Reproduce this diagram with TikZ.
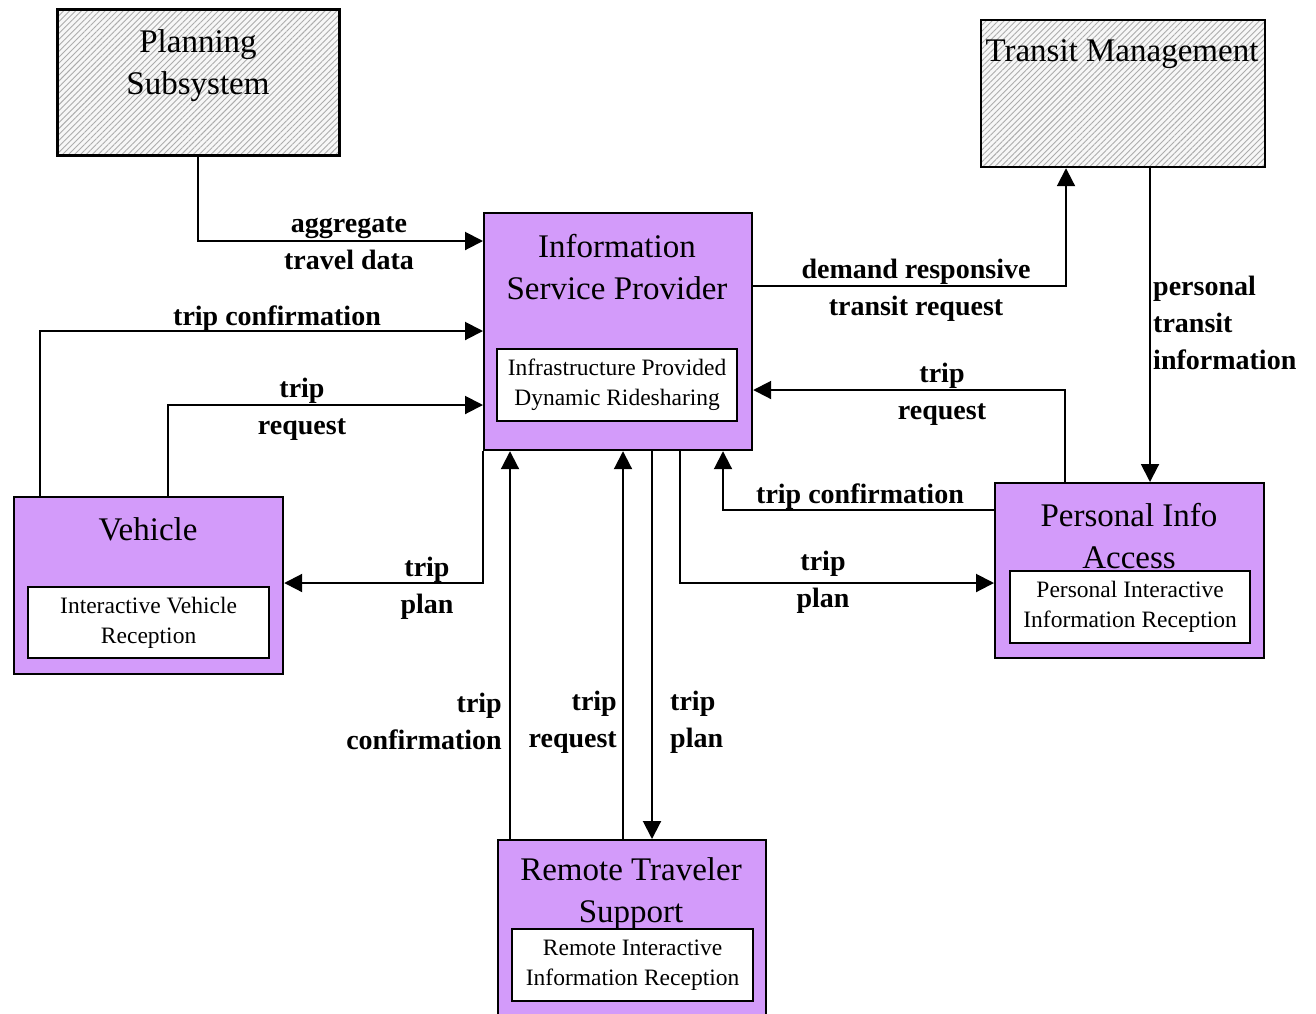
\documentclass[tikz,border=0pt]{standalone}
\usepackage{fontspec}
\setmainfont{Liberation Serif}
\usetikzlibrary{arrows.meta,patterns.meta}
\definecolor{boxpurple}{RGB}{211,155,250}
\tikzset{
  sysbox/.style={draw=black, line width=2.2pt, fill=boxpurple, anchor=north west, inner sep=0pt},
  hatchbox/.style={draw=black, line width=2.2pt, preaction={fill=gray!6}, pattern={Lines[angle=45,distance=4.2pt,line width=0.9pt]}, pattern color=gray!65, anchor=north west, inner sep=0pt},
  innerbox/.style={draw=black, line width=2.2pt, fill=white, anchor=north west, inner sep=0pt, align=center, font=\fontsize{23.5}{30}\selectfont},
  titletext/.style={align=center, inner sep=0pt, font=\fontsize{33}{42}\selectfont},
  lbl/.style={align=center, inner sep=0pt, font=\bfseries\fontsize{28}{37}\selectfont},
  arr/.style={line width=2pt, -{Triangle[length=18pt,width=18pt]}},
}
\begin{document}
\begin{tikzpicture}[x=1pt,y=-1pt]
\clip (0,0) rectangle (1316,1013);
\fill[white] (0,0) rectangle (1316,1013);

% boxes
\node[hatchbox, minimum width=282pt, minimum height=146pt] (plan) at (57,9) {};
\node[titletext] (plantxt) at (198,66) {Planning\\Subsystem};

\node[hatchbox, minimum width=284pt, minimum height=147pt] (tm) at (980,19) {};
\node[titletext] (tmtxt) at (1122,54) {Transit Management};

\node[sysbox, minimum width=268pt, minimum height=237pt] (isp) at (483,212) {};
\node[titletext] (isptxt) at (617,267) {Information\\Service Provider};
\node[innerbox, minimum width=240pt, minimum height=72pt] (ispin) at (496,348) {Infrastructure Provided\\Dynamic Ridesharing};

\node[sysbox, minimum width=269pt, minimum height=177pt] (veh) at (13,496) {};
\node[titletext] (vehtxt) at (148,529) {Vehicle};
\node[innerbox, minimum width=241pt, minimum height=71pt] (vehin) at (27,586) {Interactive Vehicle\\Reception};

\node[sysbox, minimum width=269pt, minimum height=175pt] (pia) at (994,482) {};
\node[titletext] (piatxt) at (1129,536) {Personal Info\\Access};
\node[innerbox, minimum width=240pt, minimum height=72pt] (piain) at (1009,570) {Personal Interactive\\Information Reception};

\node[sysbox, minimum width=268pt, minimum height=190pt] (rts) at (497,839) {};
\node[titletext] (rtstxt) at (631,894) {Remote Traveler\\Support};
\node[innerbox, minimum width=241pt, minimum height=72pt] (rtsin) at (511,928) {Remote Interactive\\Information Reception};

% connectors
\draw[arr] (plan.south) |- (isp.west |- 0,241);
\draw[arr] (veh.north -| 40,0) |- (isp.west |- 0,331);
\draw[arr] (veh.north -| 168,0) |- (isp.west |- 0,405);
\draw[arr] (isp.south west) |- (veh.east |- 0,583);
\draw[arr] (isp.east |- 0,286) -| (tm.south -| 1066,0);
\draw[arr] (tm.south -| 1150,0) -- (pia.north -| 1150,0);
\draw[arr] (pia.north -| 1065,0) |- (isp.east |- 0,390);
\draw[arr] (pia.west |- 0,510) -| (isp.south -| 723,0);
\draw[arr] (isp.south -| 680,0) |- (pia.west |- 0,583);
\draw[arr] (rts.north -| 510,0) -- (isp.south -| 510,0);
\draw[arr] (rts.north -| 623,0) -- (isp.south -| 623,0);
\draw[arr] (isp.south -| 652,0) -- (rts.north -| 652,0);

% labels
\node[lbl] (l1) at (349,243) {aggregate\\travel data};
\node[lbl, anchor=base] (l2) at (277,325) {trip confirmation};
\node[lbl] (l3) at (302,409) {trip\\request};
\node[lbl] (l4) at (427,588) {trip\\plan};
\node[lbl] (l5) at (916,290) {demand responsive\\transit request};
\node[lbl, align=left, anchor=west] (l6) at (1153,323) {personal\\transit\\information};
\node[lbl] (l7) at (942,394) {trip\\request};
\node[lbl, anchor=base] (l8) at (860,503) {trip confirmation};
\node[lbl] (l9) at (823,582) {trip\\plan};
\node[lbl, align=right, anchor=east] (l10) at (502,721) {trip\\confirmation};
\node[lbl, align=right, anchor=east] (l11) at (617,722) {trip\\request};
\node[lbl, align=left, anchor=west] (l12) at (670,722) {trip\\plan};
\end{tikzpicture}
\end{document}
